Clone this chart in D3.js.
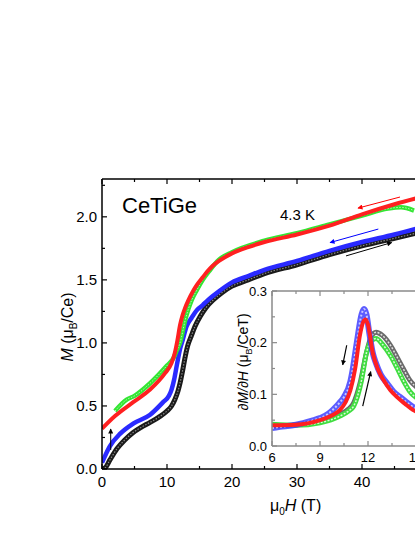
<!DOCTYPE html>
<html>
<head>
<meta charset="utf-8">
<script src="https://cdn.jsdelivr.net/npm/d3@7"></script>
<style>
  body { margin: 0; background: #fff; }
  text { font-family: "Liberation Sans", Arial, sans-serif; fill: #000; }
</style>
</head>
<body>
<svg width="415" height="537"></svg>
<script>
// main panel: M(H) sweeps at 4.3 K
var blackH = [0, 0.5, 1.2, 2.3, 3.5, 4.8, 6, 7.4, 8.7, 10, 10.7, 11.2, 11.7, 12.0, 12.4, 12.8, 13.2, 13.7, 14.3, 15.1, 16, 17.1, 18.5, 20, 22.5, 25, 30, 35, 40, 45, 50];
var blackM = [0, 0.01, 0.07, 0.16, 0.23, 0.29, 0.33, 0.37, 0.41, 0.46, 0.50, 0.55, 0.62, 0.68, 0.78, 0.89, 0.98, 1.05, 1.13, 1.21, 1.28, 1.34, 1.40, 1.45, 1.50, 1.55, 1.62, 1.70, 1.77, 1.83, 1.89];

var blueH = [0, 1.2, 2.8, 4.8, 7.4, 9.4, 10.3, 10.7, 11.1, 11.5, 12.0, 12.4, 13, 13.8, 14.6, 15.5, 16.1, 17, 18, 20, 22.5, 25, 30, 35, 40, 45, 50];
var blueM = [0.05, 0.18, 0.28, 0.36, 0.43, 0.53, 0.58, 0.63, 0.71, 0.82, 0.95, 1.02, 1.13, 1.20, 1.26, 1.30, 1.33, 1.37, 1.41, 1.48, 1.53, 1.58, 1.65, 1.73, 1.80, 1.86, 1.93];

var greenH = [2, 3.8, 5, 7.4, 10, 11, 11.5, 12, 12.8, 13.3, 13.8, 14.6, 15.5, 16.5, 18, 20, 25, 30, 35, 40, 44, 46, 48];
var greenM = [0.46, 0.55, 0.58, 0.68, 0.82, 0.88, 0.94, 1.0, 1.18, 1.27, 1.34, 1.42, 1.50, 1.57, 1.66, 1.72, 1.81, 1.87, 1.94, 2.01, 2.065, 2.075, 2.05];

var redH = [0, 2, 4.8, 7.4, 9.7, 10.7, 11.2, 11.6, 12.0, 12.4, 12.8, 13.3, 14, 14.6, 15.5, 16.1, 17, 18, 20, 22.5, 25, 30, 35, 40, 45, 50];
var redM = [0.32, 0.42, 0.53, 0.63, 0.76, 0.84, 0.92, 1.02, 1.14, 1.22, 1.28, 1.34, 1.41, 1.46, 1.52, 1.56, 1.61, 1.65, 1.71, 1.76, 1.80, 1.86, 1.93, 2.02, 2.10, 2.17];

// inset: dM/dH
var dBlueH = [6, 6.5, 7.5, 8.5, 9, 9.5, 9.8, 10.2, 10.5, 10.9, 11.0, 11.3, 11.6, 11.75, 11.9, 12.1, 12.3, 12.5, 12.8, 13.2, 13.6, 14, 14.4, 14.8, 15.2];
var dBlueV = [0.035, 0.037, 0.041, 0.049, 0.054, 0.062, 0.07, 0.083, 0.095, 0.125, 0.14, 0.2, 0.255, 0.265, 0.255, 0.215, 0.18, 0.16, 0.138, 0.121, 0.105, 0.095, 0.085, 0.076, 0.07];

var dRedH = [6, 7.5, 9, 9.8, 10.25, 10.6, 10.9, 11.2, 11.5, 11.7, 11.85, 12.0, 12.3, 12.6, 12.96, 13.4, 13.8, 14.3, 14.8, 15.2];
var dRedV = [0.04, 0.041, 0.05, 0.06, 0.07, 0.085, 0.108, 0.15, 0.215, 0.24, 0.245, 0.235, 0.18, 0.15, 0.128, 0.108, 0.095, 0.082, 0.07, 0.064];

var dBlackH = [6, 7.5, 9, 10.25, 10.8, 11.1, 11.5, 11.9, 12.2, 12.5, 12.9, 13.4, 13.8, 14.2, 14.6, 15.2];
var dBlackV = [0.038, 0.041, 0.048, 0.061, 0.072, 0.083, 0.121, 0.18, 0.211, 0.22, 0.214, 0.195, 0.173, 0.15, 0.128, 0.11];

var dGreenH = [6, 7.5, 9, 10.25, 10.8, 11.1, 11.6, 11.9, 12.2, 12.5, 12.9, 13.4, 13.8, 14.2, 14.6, 15.2];
var dGreenV = [0.042, 0.04, 0.045, 0.058, 0.068, 0.077, 0.128, 0.18, 0.203, 0.208, 0.197, 0.175, 0.152, 0.127, 0.106, 0.09];

var zip = function(a, b) { return a.map(function(v, i) { return [v, b[i]]; }); };

var svg = d3.select("svg");

// ---- main plot ----
var x = d3.scaleLinear().domain([0, 50]).range([102, 427]);
var y = d3.scaleLinear().domain([0, 2.3]).range([469, 179]);

svg.append("clipPath").attr("id", "mainclip")
  .append("rect").attr("x", 102).attr("y", 179).attr("width", 330).attr("height", 290);

var line = d3.line()
    .x(function(d) { return x(d[0]); })
    .y(function(d) { return y(d[1]); })
    .curve(d3.curveMonotoneX);

var curves = svg.append("g").attr("clip-path", "url(#mainclip)");

// black: open squares, drawn as a thick dark band with a lighter core
curves.append("path").datum(zip(blackH, blackM))
    .attr("d", line).attr("fill", "none")
    .attr("stroke", "#1a1a1a").attr("stroke-width", 5);
curves.append("path").datum(zip(blackH, blackM))
    .attr("d", line).attr("fill", "none")
    .attr("stroke", "#888").attr("stroke-width", 1.2).attr("stroke-dasharray", "1.5,1.5");

curves.append("path").datum(zip(blueH, blueM))
    .attr("d", line).attr("fill", "none")
    .attr("stroke", "#2a2aff").attr("stroke-width", 4.5);

curves.append("path").datum(zip(greenH, greenM))
    .attr("d", line).attr("fill", "none")
    .attr("stroke", "#33e633").attr("stroke-width", 4.5);
curves.append("path").datum(zip(greenH, greenM))
    .attr("d", line).attr("fill", "none")
    .attr("stroke", "#b8f5b8").attr("stroke-width", 1).attr("stroke-dasharray", "1.5,1.5");

curves.append("path").datum(zip(redH, redM))
    .attr("d", line).attr("fill", "none")
    .attr("stroke", "#ff2020").attr("stroke-width", 4);

// axes (ticks pointing inward)
function frame(g, xs, ys, xMajor, xMinor, yMajor, yMinor, color, xFmt, yFmt, fs, xLabelMax) {
  var x0 = xs.range()[0], x1 = xs.range()[1], y0 = ys.range()[0], y1 = ys.range()[1];
  g.append("line").attr("x1", x0).attr("x2", x1).attr("y1", y0).attr("y2", y0)
    .attr("stroke", color).attr("stroke-width", 1.5);
  g.append("line").attr("x1", x0).attr("x2", x1).attr("y1", y1).attr("y2", y1)
    .attr("stroke", color).attr("stroke-width", 1.5);
  g.append("line").attr("x1", x0).attr("x2", x0).attr("y1", y0).attr("y2", y1)
    .attr("stroke", color).attr("stroke-width", 1.5);

  var xt = d3.range(xs.domain()[0], xs.domain()[1] + 1e-9, xMinor);
  xt.forEach(function(v) {
    var major = Math.abs(v / xMajor - Math.round(v / xMajor)) < 1e-6;
    var len = major ? 5 : 3;
    g.append("line").attr("x1", xs(v)).attr("x2", xs(v)).attr("y1", y0).attr("y2", y0 - len)
      .attr("stroke", color).attr("stroke-width", 1.2);
    g.append("line").attr("x1", xs(v)).attr("x2", xs(v)).attr("y1", y1).attr("y2", y1 + len)
      .attr("stroke", color).attr("stroke-width", 1.2);
    if (major && v <= xLabelMax) {
      g.append("text").attr("x", xs(v)).attr("y", y0 + fs + 3)
        .attr("text-anchor", "middle").attr("font-size", fs).text(xFmt(v));
    }
  });
  var yt = d3.range(ys.domain()[0], ys.domain()[1] + 1e-9, yMinor);
  yt.forEach(function(v) {
    var major = Math.abs(v / yMajor - Math.round(v / yMajor)) < 1e-6;
    var len = major ? 5 : 3;
    g.append("line").attr("x1", x0).attr("x2", x0 + len).attr("y1", ys(v)).attr("y2", ys(v))
      .attr("stroke", color).attr("stroke-width", 1.2);
    if (major) {
      g.append("text").attr("x", x0 - 5).attr("y", ys(v) + fs * 0.36)
        .attr("text-anchor", "end").attr("font-size", fs).text(yFmt(v));
    }
  });
}

frame(svg.append("g"), x, y, 10, 5, 0.5, 0.25, "#000", d3.format("d"), d3.format(".1f"), 15, 40);

// labels
svg.append("text").attr("x", 122).attr("y", 213).attr("font-size", 22).text("CeTiGe");
svg.append("text").attr("x", 280).attr("y", 220).attr("font-size", 15).text("4.3 K");

var xl = svg.append("text").attr("x", 270).attr("y", 511).attr("font-size", 16);
xl.append("tspan").text("\u03bc");
xl.append("tspan").attr("font-size", 10).attr("dy", 4).text("0");
xl.append("tspan").attr("font-style", "italic").attr("dy", -4).text("H");
xl.append("tspan").text(" (T)");

var yl = svg.append("text").attr("transform", "translate(73,327) rotate(-90)")
    .attr("text-anchor", "middle").attr("font-size", 16);
yl.append("tspan").attr("font-style", "italic").text("M");
yl.append("tspan").text(" (\u03bc");
yl.append("tspan").attr("font-size", 10).attr("dy", 4).text("B");
yl.append("tspan").attr("dy", -4).text("/Ce)");

// arrows
var defs = svg.append("defs");
["#000", "#ff0000", "#0000ff"].forEach(function(c, i) {
  defs.append("marker").attr("id", "ah" + i)
    .attr("viewBox", "0 0 10 10").attr("refX", 9).attr("refY", 5)
    .attr("markerWidth", 7).attr("markerHeight", 5).attr("orient", "auto")
    .attr("markerUnits", "userSpaceOnUse")
    .append("path").attr("d", "M0,0L10,5L0,10Z").attr("fill", c);
});

var mainArrows = [
  { from: [45.85, 2.157], to: [39.38, 2.069], c: 1 },
  { from: [42.51, 1.903], to: [35.08, 1.796], c: 2 },
  { from: [37.54, 1.690], to: [44.57, 1.796], c: 0 },
  { from: [1.34, 0.151], to: [1.34, 0.317], c: 0 }
];
var arrowCol = ["#000", "#ff0000", "#0000ff"];
mainArrows.forEach(function(a) {
  svg.append("line")
    .attr("x1", x(a.from[0])).attr("y1", y(a.from[1]))
    .attr("x2", x(a.to[0])).attr("y2", y(a.to[1]))
    .attr("stroke", arrowCol[a.c]).attr("stroke-width", 1)
    .attr("marker-end", "url(#ah" + a.c + ")");
});

// ---- inset ----
var ix = d3.scaleLinear().domain([6, 15.5]).range([272, 424]);
var iy = d3.scaleLinear().domain([0, 0.3]).range([446, 291]);

svg.append("rect").attr("x", 272).attr("y", 291).attr("width", 160).attr("height", 155).attr("fill", "#fff");
svg.append("clipPath").attr("id", "insclip")
  .append("rect").attr("x", 272).attr("y", 291).attr("width", 160).attr("height", 155);

var iline = d3.line()
    .x(function(d) { return ix(d[0]); })
    .y(function(d) { return iy(d[1]); })
    .curve(d3.curveMonotoneX);

var ic = svg.append("g").attr("clip-path", "url(#insclip)");

ic.append("path").datum(zip(dBlackH, dBlackV)).attr("d", iline).attr("fill", "none")
  .attr("stroke", "#6a6a6a").attr("stroke-width", 5);
ic.append("path").datum(zip(dBlackH, dBlackV)).attr("d", iline).attr("fill", "none")
  .attr("stroke", "#e0e0e0").attr("stroke-width", 1.5).attr("stroke-dasharray", "2,1.5");

ic.append("path").datum(zip(dGreenH, dGreenV)).attr("d", iline).attr("fill", "none")
  .attr("stroke", "#40dd40").attr("stroke-width", 5);
ic.append("path").datum(zip(dGreenH, dGreenV)).attr("d", iline).attr("fill", "none")
  .attr("stroke", "#d8fbd8").attr("stroke-width", 1.5).attr("stroke-dasharray", "2,1.5");

ic.append("path").datum(zip(dBlueH, dBlueV)).attr("d", iline).attr("fill", "none")
  .attr("stroke", "#4040ff").attr("stroke-width", 6).attr("stroke-opacity", 0.85);
ic.append("path").datum(zip(dBlueH, dBlueV)).attr("d", iline).attr("fill", "none")
  .attr("stroke", "#c8c8ff").attr("stroke-width", 2).attr("stroke-dasharray", "2,2");

ic.append("path").datum(zip(dRedH, dRedV)).attr("d", iline).attr("fill", "none")
  .attr("stroke", "#ff2020").attr("stroke-width", 4);

frame(svg.append("g"), ix, iy, 3, 1.5, 0.1, 0.05, "#8a8a8a", d3.format("d"), d3.format(".1f"), 13, 15);

var il = svg.append("text").attr("transform", "translate(248,362) rotate(-90)")
    .attr("text-anchor", "middle").attr("font-size", 14);
il.append("tspan").attr("font-style", "italic").text("\u2202M/\u2202H");
il.append("tspan").text(" (\u03bc");
il.append("tspan").attr("font-size", 9).attr("dy", 4).text("B");
il.append("tspan").attr("dy", -4).text("/CeT)");

var insetArrows = [
  { from: [10.67, 0.195], to: [10.42, 0.157] },
  { from: [11.67, 0.077], to: [12.17, 0.144] }
];
insetArrows.forEach(function(a) {
  svg.append("line")
    .attr("x1", ix(a.from[0])).attr("y1", iy(a.from[1]))
    .attr("x2", ix(a.to[0])).attr("y2", iy(a.to[1]))
    .attr("stroke", "#000").attr("stroke-width", 1.2)
    .attr("marker-end", "url(#ah0)");
});
</script>
</body>
</html>
